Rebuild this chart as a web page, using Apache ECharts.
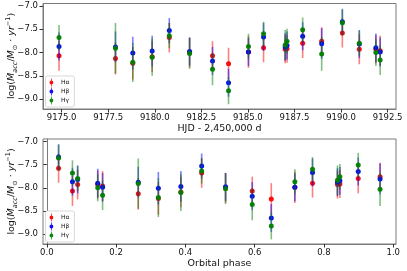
<!DOCTYPE html>
<html>
<head>
<meta charset="utf-8">
<script src="https://cdn.jsdelivr.net/npm/echarts@6/dist/echarts.min.js"></script>
<style>html,body{margin:0;padding:0;background:#fff;}#c{width:407px;height:271px;}</style>
</head>
<body>
<div id="c"></div>
<script>
// Epoch data
const hjd   = [9174.86, 9177.89, 9178.82, 9179.86, 9180.78, 9181.87, 9183.10, 9183.96, 9185.03, 9185.84, 9187.00, 9187.10, 9187.94, 9188.96, 9190.07, 9190.98, 9191.87, 9192.10];
const phase = [0.074, 0.264, 0.322, 0.387, 0.447, 0.516, 0.593, 0.648, 0.716, 0.767, 0.839, 0.846, 0.899, 0.962, 0.034, 0.089, 0.147, 0.161];
const hAlpha = [-8.07, -8.13, -8.23, -8.09, -7.68, -8.00, -8.07, -8.24, -7.99, -7.90, -7.93, -7.92, -7.80, -7.76, -7.58, -7.93, -7.93, -7.96];
const hBeta  = [-7.87, -7.88, -8.01, -7.97, -7.53, -7.98, -8.18, -8.65, -7.99, -7.67, -7.88, -7.85, -7.65, -7.81, -7.34, -7.82, -7.90, -7.99];
const hGamma = [-7.68, -7.91, -8.21, -8.10, -7.64, -8.02, -8.36, -8.82, -7.87, -7.60, -7.84, -7.76, -7.51, -8.03, -7.36, -7.80, -8.00, -8.16];
const errAlpha = [0.32, 0.34, 0.35, 0.33, 0.32, 0.32, 0.31, 0.34, 0.34, 0.31, 0.30, 0.30, 0.32, 0.30, 0.31, 0.32, 0.30, 0.32];
const errBeta  = [0.30, 0.33, 0.35, 0.33, 0.27, 0.30, 0.30, 0.30, 0.30, 0.30, 0.30, 0.30, 0.30, 0.33, 0.28, 0.30, 0.31, 0.31];
const errGamma = [0.27, 0.54, 0.42, 0.40, 0.27, 0.33, 0.34, 0.29, 0.27, 0.26, 0.32, 0.27, 0.26, 0.36, 0.28, 0.27, 0.29, 0.32];
const lineNames = ['Hα', 'Hβ', 'Hγ'];
const yTicks = [-9.0, -8.5, -8.0, -7.5, -7.0];
const yTickLabels = ['\u22129.0', '\u22128.5', '\u22128.0', '\u22127.5', '\u22127.0'];
const hjdTicks = [9175.0, 9177.5, 9180.0, 9182.5, 9185.0, 9187.5, 9190.0, 9192.5];
const hjdTickLabels = ['9175.0', '9177.5', '9180.0', '9182.5', '9185.0', '9187.5', '9190.0', '9192.5'];
const phaseTicks = [0.0, 0.2, 0.4, 0.6, 0.8, 1.0];
const phaseTickLabels = ['0.0', '0.2', '0.4', '0.6', '0.8', '1.0'];

const colors = ['#ff0000', '#0000ff', '#008000'];
const vals = [hAlpha, hBeta, hGamma];
const errs = [errAlpha, errBeta, errGamma];
const FONT = 'DejaVu Sans';
const frame = '#7a7a7a';

function lookup(ticks, labels) {
  return function (v) {
    const n = Number(v);
    for (let i = 0; i < ticks.length; i++) {
      if (Math.abs(ticks[i] - n) < 1e-6) return labels[i];
    }
    return '';
  };
}

const chart = echarts.init(document.getElementById('c'), null, {renderer: 'canvas'});

function yAxisCfg(gi) {
  return {
    gridIndex: gi, type: 'value', min: -9.21, max: -6.95,
    axisLine: {show: true, lineStyle: {color: frame, width: 1}},
    axisTick: {show: true, length: 3.5, lineStyle: {color: '#333'}, customValues: yTicks},
    axisLabel: {customValues: yTicks, margin: 5, fontFamily: FONT, fontSize: 8.5, color: '#111',
      formatter: lookup(yTicks, yTickLabels)},
    splitLine: {show: false}
  };
}

const yNameRich = {
  a: {fontFamily: FONT, fontSize: 9.5, fill: '#111', color: '#111', lineHeight: 14},
  i: {fontFamily: FONT, fontSize: 9.5, fontStyle: 'italic', fill: '#111', color: '#111', lineHeight: 14},
  s: {fontFamily: FONT, fontSize: 6.5, fontStyle: 'italic', fill: '#111', color: '#111', verticalAlign: 'bottom', lineHeight: 14},
  p: {fontFamily: FONT, fontSize: 6.5, fill: '#111', color: '#111', verticalAlign: 'top', lineHeight: 14}
};
const yNameText = '{a|log(}{i|\u1E40}{s|acc}{a|/}{i|M}{s|\u2299}{a| \u00B7 }{i|yr}{p|\u22121}{a|)}';
function yNameGraphic(cy) {
  return {
    type: 'text', x: 12, y: cy, rotation: Math.PI / 2, silent: true,
    style: {text: yNameText, rich: yNameRich, align: 'center', verticalAlign: 'middle',
      fontFamily: FONT, fontSize: 9.5, fill: '#111'}
  };
}

const errRender = (color) => function (params, api) {
  const x = api.value(0), y = api.value(1), e = api.value(2);
  const p1 = api.coord([x, y + e]);
  const p2 = api.coord([x, y - e]);
  return {
    type: 'line',
    shape: {x1: p1[0], y1: p1[1], x2: p2[0], y2: p2[1]},
    style: {stroke: color, lineWidth: 1.6, opacity: 0.5}
  };
};

const series = [];
const xs = [hjd, phase];
for (let gi = 0; gi < 2; gi++) {
  for (let k = 0; k < 3; k++) {
    series.push({
      type: 'custom', xAxisIndex: gi, yAxisIndex: gi,
      renderItem: errRender(colors[k]),
      data: xs[gi].map((x, i) => [x, vals[k][i], errs[k][i]]),
      encode: {x: 0, y: 1}, silent: true, clip: true, z: 2 + k * 2
    });
    series.push({
      type: 'scatter', name: lineNames[k], xAxisIndex: gi, yAxisIndex: gi,
      symbol: 'circle', symbolSize: 5,
      itemStyle: {color: colors[k], opacity: 0.95},
      data: xs[gi].map((x, i) => [x, vals[k][i]]),
      z: 3 + k * 2, silent: true
    });
  }
}

const legendIcon = 'path://M4.55,0H5.45V10H4.55Z M5,2.6A2.4,2.4,0,1,1,4.99,2.6Z';
function legendCfg(top) {
  return {
    data: lineNames, orient: 'vertical', left: 45.5, top: top,
    icon: legendIcon, itemWidth: 9, itemHeight: 8, itemGap: 1,
    padding: [2.5, 5, 2.5, 4],
    backgroundColor: '#fff', borderColor: '#d8d8d8', borderWidth: 1, borderRadius: 2,
    textStyle: {fontFamily: FONT, fontSize: 6, color: '#111'},
    selectedMode: false
  };
}

chart.setOption({
  animation: false,
  backgroundColor: '#fff',
  grid: [
    {left: 43, top: 3.5, width: 353, height: 105.5, show: true, borderColor: frame, borderWidth: 1, backgroundColor: 'transparent'},
    {left: 43, top: 139, width: 353, height: 105, show: true, borderColor: frame, borderWidth: 1, backgroundColor: 'transparent'}
  ],
  xAxis: [
    {gridIndex: 0, type: 'value', min: 9174.0, max: 9192.95,
      axisLine: {show: true, onZero: false, lineStyle: {color: frame}},
      axisTick: {show: true, length: 3.5, lineStyle: {color: '#333'}, customValues: hjdTicks},
      axisLabel: {customValues: hjdTicks, margin: 4.5, fontFamily: FONT, fontSize: 8.5, color: '#111', formatter: lookup(hjdTicks, hjdTickLabels)},
      splitLine: {show: false},
      name: 'HJD - 2,450,000 d', nameLocation: 'middle', nameGap: 14,
      nameTextStyle: {fontFamily: FONT, fontSize: 9.5, color: '#111'}
    },
    {gridIndex: 1, type: 'value', min: -0.011, max: 1.008,
      axisLine: {show: true, onZero: false, lineStyle: {color: frame}},
      axisTick: {show: true, length: 3.5, lineStyle: {color: '#333'}, customValues: phaseTicks},
      axisLabel: {customValues: phaseTicks, margin: 4.5, fontFamily: FONT, fontSize: 8.5, color: '#111', formatter: lookup(phaseTicks, phaseTickLabels)},
      splitLine: {show: false},
      name: 'Orbital phase', nameLocation: 'middle', nameGap: 14,
      nameTextStyle: {fontFamily: FONT, fontSize: 9.5, color: '#111'}
    }
  ],
  yAxis: [yAxisCfg(0), yAxisCfg(1)],
  legend: [legendCfg(76), legendCfg(211)],
  graphic: [yNameGraphic(56), yNameGraphic(191.5)],
  series: series
});
</script>
</body>
</html>
